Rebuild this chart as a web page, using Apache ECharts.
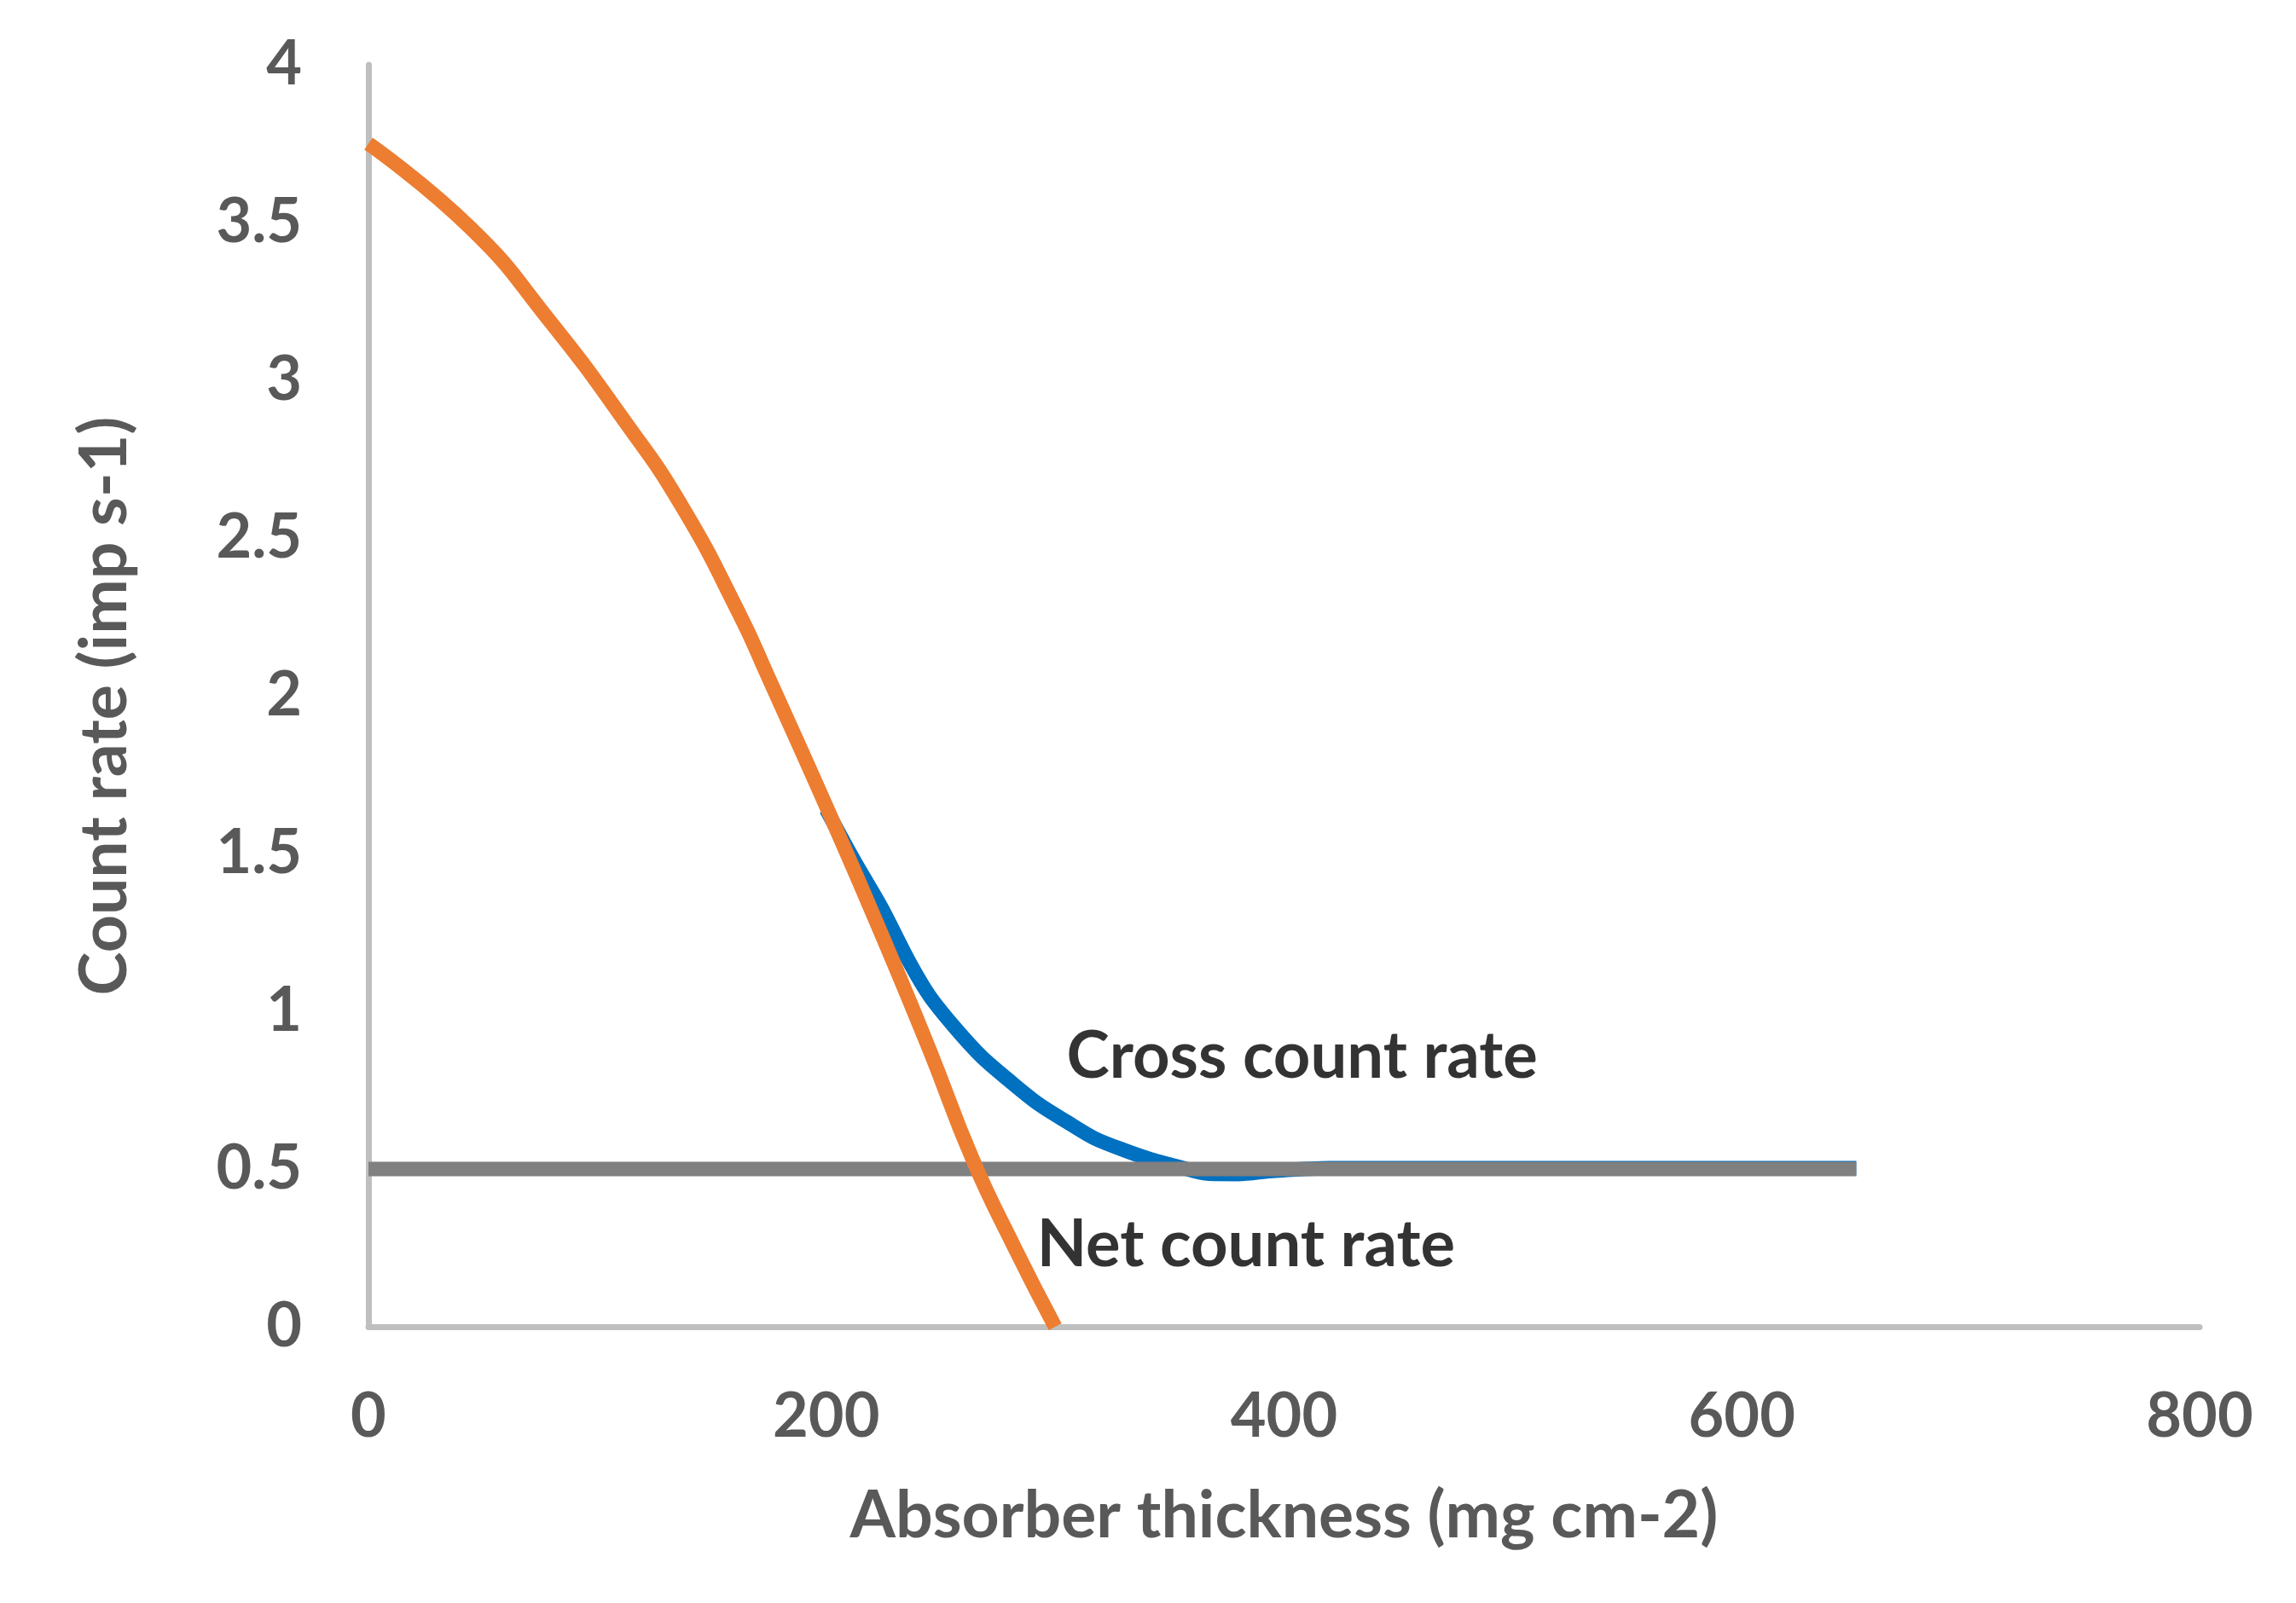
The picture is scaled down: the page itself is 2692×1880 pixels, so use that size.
<!DOCTYPE html>
<html><head><meta charset="utf-8">
<script src="https://cdn.jsdelivr.net/npm/echarts@6/dist/echarts.min.js"></script>
<style>html,body{margin:0;padding:0;background:#fff}#c{width:2692px;height:1880px}</style>
</head><body><div id="c"></div>
<script>
// Absorber thickness (mg cm-2) vs count rate (imp s-1)
const netX   = [0, 45, 79, 112, 137, 162, 174, 203, 225, 245, 264, 282, 300];
const netY   = [3.75, 3.48, 3.19, 2.87, 2.60, 2.26, 2.07, 1.60, 1.23, 0.88, 0.53, 0.255, 0];
const crossX = [200, 212, 224, 236, 245, 256, 268, 280, 292, 305, 317, 330, 342, 355, 367, 380, 395, 420, 650];
const crossY = [1.64, 1.48, 1.33, 1.16, 1.05, 0.95, 0.855, 0.78, 0.71, 0.65, 0.598, 0.56, 0.53, 0.505, 0.485, 0.484, 0.494, 0.503, 0.503];
const bgX    = [0, 650];
const bgY    = [0.5, 0.5];
const labelNames = ['Cross count rate', 'Net count rate'];
const labelX = [305, 292];
const labelY = [0.855, 0.259];

const FONT = 'Lato';
const pairs = (xs, ys) => xs.map((x, i) => [x, ys[i]]);

const chart = echarts.init(document.getElementById('c'));
chart.setOption({
  backgroundColor: '#ffffff',
  animation: false,
  grid: { left: 432, right: 113, top: 76, bottom: 324, containLabel: false },
  xAxis: {
    type: 'value', min: 0, max: 800, interval: 200,
    name: 'Absorber thickness (mg cm-2)', nameLocation: 'middle', nameGap: 184,
    nameTextStyle: { color: '#595959', fontFamily: FONT, fontWeight: 'bold', fontSize: 77 },
    axisLine: { show: true, lineStyle: { color: '#BFBFBF', width: 7 } },
    axisTick: { show: false },
    splitLine: { show: false },
    axisLabel: { color: '#595959', fontFamily: FONT, fontWeight: 'bold', fontSize: 72, margin: 70 }
  },
  yAxis: {
    type: 'value', min: 0, max: 4, interval: 0.5,
    name: 'Count rate (imp s-1)', nameLocation: 'middle', nameGap: 270,
    nameTextStyle: { color: '#595959', fontFamily: FONT, fontWeight: 'bold', fontSize: 77, padding: [0, 24, 0, 0] },
    axisLine: { show: true, lineStyle: { color: '#BFBFBF', width: 7 } },
    axisTick: { show: false },
    splitLine: { show: false },
    axisLabel: { color: '#595959', fontFamily: FONT, fontWeight: 'bold', fontSize: 72, margin: 78 }
  },
  series: [
    {
      name: 'Cross count rate', type: 'line', z: 2, smooth: 0.3, showSymbol: false,
      data: pairs(crossX, crossY),
      lineStyle: { color: '#0070C0', width: 17, cap: 'butt' }
    },
    {
      name: 'Background', type: 'line', z: 3, showSymbol: false,
      data: pairs(bgX, bgY),
      lineStyle: { color: '#808080', width: 17, cap: 'butt' }
    },
    {
      name: 'Net count rate', type: 'line', z: 4, smooth: 0.5, showSymbol: false,
      data: pairs(netX, netY),
      lineStyle: { color: '#ED7D31', width: 17, cap: 'butt' }
    },
    {
      name: 'labels', type: 'scatter', z: 5, symbolSize: 0, silent: true,
      data: labelNames.map((n, i) => ({ value: [labelX[i], labelY[i]], name: n })),
      label: {
        show: true, position: 'right', distance: 0,
        formatter: p => p.name,
        color: '#000000', fontFamily: FONT, fontWeight: 'bold', fontSize: 76
      }
    }
  ]
});
</script>
</body></html>
